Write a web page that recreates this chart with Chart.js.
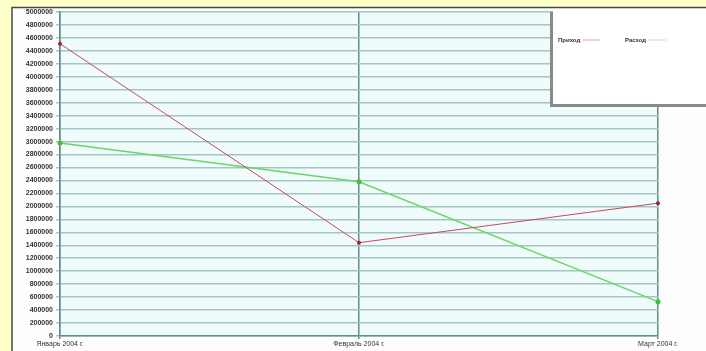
<!DOCTYPE html>
<html>
<head>
<meta charset="utf-8">
<script src="https://cdn.jsdelivr.net/npm/chart.js@4"></script>
<style>
  html, body { margin: 0; padding: 0; background: #ffffc8; overflow: hidden; }
  canvas { display: block; }
</style>
</head>
<body>
<canvas id="myChart" width="706" height="351"></canvas>
<script>
// данные графика
const months = ['Январь 2004 г.', 'Февраль 2004 г.', 'Март 2004 г.'];
const seriesNames = ['Приход', 'Расход'];
const prihod = [4510000, 1440000, 2050000];
const rashod = [2980000, 2380000, 530000];
const yMin = 0;
const yMax = 5000000;
const yStep = 200000;

// фон, рамка и область построения
const backgroundPlugin = {
    id: 'background',
    beforeDraw(chart) {
        const c = chart.ctx;
        const a = chart.chartArea;
        c.save();
        c.fillStyle = '#ffffc8';
        c.fillRect(0, 0, chart.width, chart.height);
        c.fillStyle = '#fdfdfd';
        c.fillRect(12, 7, chart.width - 12, chart.height - 7);
        c.strokeStyle = '#4a4a4a';
        c.lineWidth = 1.5;
        c.beginPath();
        c.moveTo(12, chart.height);
        c.lineTo(12, 7.5);
        c.lineTo(chart.width, 7.5);
        c.stroke();
        c.fillStyle = '#f0fbfb';
        c.fillRect(a.left, a.top, a.right - a.left, a.bottom - a.top);
        c.restore();
    }
};

// легенда в белой рамке справа
const legendBoxPlugin = {
    id: 'legendBox',
    afterDraw(chart) {
        const c = chart.ctx;
        c.save();
        c.fillStyle = '#8a8a8a';
        c.fillRect(550, 12, 156, 95);
        c.fillStyle = '#ffffff';
        c.fillRect(553, 9, 153, 95);
        c.font = 'bold 6px "Liberation Sans", Arial, sans-serif';
        c.textBaseline = 'middle';
        const xs = [558, 625];
        chart.data.datasets.forEach((ds, i) => {
            c.fillStyle = '#333';
            c.fillText(ds.label, xs[i], 40);
            const w = c.measureText(ds.label).width;
            c.strokeStyle = ds.borderColor;
            c.globalAlpha = 0.5;
            c.lineWidth = 1;
            c.beginPath();
            c.moveTo(xs[i] + w + 2, 40);
            c.lineTo(xs[i] + w + 20, 40);
            c.stroke();
            c.globalAlpha = 1;
        });
        c.restore();
    }
};

const ctx = document.getElementById('myChart');

new Chart(ctx, {
    type: 'line',
    data: {
        labels: months,
        datasets: [{
            label: seriesNames[0],
            data: prihod,
            borderColor: '#c84a5a',
            backgroundColor: '#a0203a',
            borderWidth: 1,
            pointRadius: 2,
            pointBorderWidth: 0,
            tension: 0
        }, {
            label: seriesNames[1],
            data: rashod,
            borderColor: '#6bd46b',
            backgroundColor: '#40c040',
            borderWidth: 1.5,
            pointRadius: 2.5,
            pointBorderWidth: 0,
            tension: 0
        }]
    },
    options: {
        responsive: false,
        animation: false,
        devicePixelRatio: 1,
        layout: {
            padding: { top: 12, right: 48, bottom: 0, left: 0 }
        },
        plugins: {
            legend: { display: false },
            tooltip: { enabled: false }
        },
        scales: {
            x: {
                offset: false,
                afterFit(scale) { scale.height = 15; },
                grid: {
                    color: '#5f8f8c',
                    lineWidth: 1.5,
                    tickLength: 3
                },
                border: { color: '#5f8f8c', width: 1.5 },
                ticks: {
                    color: '#333',
                    maxRotation: 0,
                    autoSkip: false,
                    padding: 1,
                    font: { size: 7, family: '"Liberation Sans", Arial, sans-serif' }
                }
            },
            y: {
                min: yMin,
                max: yMax,
                afterFit(scale) { scale.width = 60; },
                grid: {
                    color: '#a4c6c2',
                    lineWidth: 1.5,
                    tickLength: 4
                },
                border: { color: '#5f8f8c', width: 1.5 },
                ticks: {
                    stepSize: yStep,
                    color: '#333',
                    padding: 3,
                    autoSkip: false,
                    font: { size: 7, weight: 'bold', family: '"Liberation Sans", Arial, sans-serif' },
                    callback: v => String(v)
                }
            }
        }
    },
    plugins: [backgroundPlugin, legendBoxPlugin]
});
</script>
</body>
</html>
